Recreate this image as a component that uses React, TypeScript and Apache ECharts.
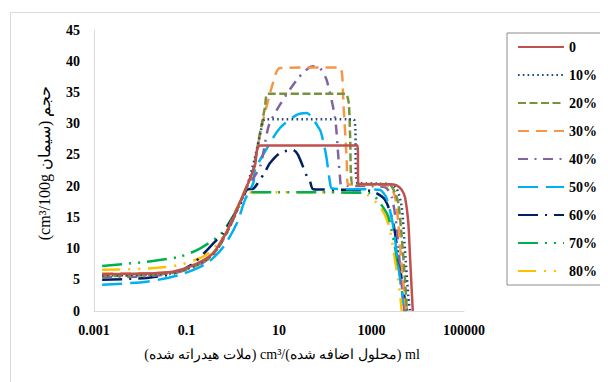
import React, { useEffect, useRef } from 'react';
import * as echarts from 'echarts';

const seriesNames = ['0', '10%', '20%', '30%', '40%', '50%', '60%', '70%', '80%'];
const seriesColors = ['#C0504D', '#1F497D', '#77933C', '#F79646', '#8064A2', '#00B0F0', '#002060', '#00B050', '#FFC000'];
const seriesDash: (number[] | 'solid')[] = [
  'solid',
  [1.6, 3.2],
  [8, 3.5],
  [11, 7],
  [10, 6.5, 2, 6.5],
  [20, 8],
  [20, 7, 2, 7],
  [20, 7, 2, 7, 2, 7],
  [18, 8, 2, 8, 2, 8],
];

const xTickExponents = [-3, -1, 1, 3, 5];
const xTickLabels = ['0.001', '0.1', '10', '1000', '100000'];

const s0 = [[0.0015, 5.9], [0.01, 6.0], [0.05, 6.3], [0.167, 7.6], [0.38, 9.3], [0.74, 12.7], [1.22, 16.2], [2, 19.9], [3, 23.2], [3.9, 26.5], [100, 26.5], [500, 26.5], [520, 20.3], [1500, 20.3], [2500, 20.3], [3500, 20.1], [4500, 19.4], [5300, 18.2], [6250, 14.1], [6800, 8.7], [7400, 3.4], [7800, 0]];
const s10 = [[0.0015, 5.7], [0.01, 5.8], [0.05, 6.2], [0.167, 7.4], [0.38, 9.2], [0.74, 12.6], [1.22, 16.1], [2, 19.8], [3, 24.5], [4, 28.6], [5, 30.7], [100, 30.7], [410, 30.7], [500, 20.5], [1500, 20.4], [2500, 20.3], [3500, 19.6], [4500, 16.7], [5300, 9.8], [6250, 2.3], [6800, 0]];
const s20 = [[0.0015, 5.6], [0.01, 5.7], [0.05, 6.1], [0.167, 7.3], [0.38, 9.1], [0.74, 12.5], [1.22, 16.3], [2, 19.8], [2.74, 22.6], [3.88, 28.5], [5, 32.7], [5.8, 34.8], [100, 34.8], [270, 34.8], [320, 33.5], [345, 28], [385, 20.4], [1500, 20.3], [2500, 20.2], [3200, 19], [3800, 17.3], [4500, 11.9], [5300, 5], [5770, 0.7], [5900, 0]];
const s30 = [[0.0015, 6.0], [0.01, 6.0], [0.05, 6.3], [0.167, 7.5], [0.38, 9.3], [0.74, 12.8], [1.22, 16.4], [2, 20], [2.74, 22.5], [4.2, 29.5], [7.4, 36.5], [10.5, 38.9], [100, 39], [208, 39], [246, 33.3], [291, 24.2], [310, 20.3], [1500, 20.2], [2500, 20], [3220, 18.3], [3800, 14], [4500, 7.1], [5300, 1.8], [5600, 0]];
const s40 = [[0.0015, 5.4], [0.01, 5.5], [0.05, 6.0], [0.167, 7.2], [0.38, 9.0], [0.74, 12.4], [1.22, 16.0], [2, 19.7], [3.88, 23.1], [6.08, 29.8], [11.5, 33.5], [24.2, 37], [40, 38.7], [55, 39.2], [77, 38.9], [107, 37], [163, 30.9], [192, 24.7], [208, 21.5], [227, 20.1], [1000, 20], [2000, 19.8], [2735, 18.3], [3505, 13.5], [4130, 7.1], [4870, 1.8], [5200, 0]];
const s50 = [[0.0015, 4.2], [0.014, 4.7], [0.072, 5.8], [0.27, 7.6], [0.63, 10.3], [1.22, 14], [1.84, 17.8], [2.78, 20.5], [3.03, 22.6], [5.5, 26.1], [10.5, 29.3], [24.2, 31.4], [39.8, 31.7], [77, 29], [85, 28], [104, 25], [127, 20.5], [140, 19.6], [1500, 19.4], [2133, 18], [2960, 13.5], [3800, 7.1], [5300, 0]];
const s60 = [[0.0015, 5.0], [0.014, 5.3], [0.052, 6.0], [0.14, 7.6], [0.45, 11.4], [0.62, 12.4], [1.44, 17], [2.0, 19.4], [2.8, 19.6], [3.5, 20.5], [5, 22.3], [6.4, 23.7], [10.5, 25.3], [20.1, 25.8], [25.8, 25], [40.3, 21.5], [47, 20.7], [55, 19.5], [343, 19.4], [1000, 19.2], [1960, 17.8], [2960, 14], [3800, 8.7], [4870, 3.4], [5770, 0]];
const s70 = [[0.0015, 7.2], [0.014, 7.9], [0.072, 8.7], [0.195, 10], [0.53, 12.2], [1.0, 15.1], [1.66, 18.3], [2.0, 19.1], [3, 19.0], [100, 19.0], [929, 18.9], [1528, 17.3], [2308, 15.1], [3505, 8.7], [4497, 3.4], [5300, 0]];
const s80 = [[0.0015, 6.6], [0.014, 6.8], [0.072, 7.4], [0.27, 9], [0.62, 11.9], [1.22, 15.7], [2.0, 18.9], [3, 19.0], [100, 19.0], [654, 18.9], [1528, 16.7], [2308, 14], [3220, 8.2], [4130, 2.8], [4500, 0]];

const seriesData = [s0, s10, s20, s30, s40, s50, s60, s70, s80];

const yTitle = '(cm³/100g حجم (سیمان';
const xTitle = '(ملات هیدراته شده) cm³/(محلول اضافه شده) ml';

export default function App() {
  const ref = useRef<HTMLDivElement>(null);
  useEffect(() => {
    if (!ref.current) return;
    const chart = echarts.init(ref.current, undefined, { renderer: 'svg' });
    chart.setOption({
      animation: false,
      backgroundColor: '#fff',
      grid: { left: 86, top: 22, width: 370, height: 281, containLabel: false },
      xAxis: {
        type: 'log',
        logBase: 10,
        min: 0.001,
        max: 100000,
        axisLine: { show: true, lineStyle: { color: '#D9D9D9', width: 1 } },
        axisTick: { show: false },
        splitLine: { show: false },
        minorTick: { show: false },
        axisLabel: {
          margin: 12,
          color: '#000',
          fontFamily: 'Liberation Serif',
          fontWeight: 'bold',
          fontSize: 14,
          formatter: (v: number) => {
            const e = Math.round(Math.log10(v));
            const i = xTickExponents.indexOf(e);
            return i >= 0 ? xTickLabels[i] : '';
          },
        },
      },
      yAxis: {
        type: 'value',
        min: 0,
        max: 45,
        interval: 5,
        axisLine: { show: true, lineStyle: { color: '#D9D9D9', width: 1 } },
        axisTick: { show: false },
        splitLine: { show: false },
        axisLabel: { margin: 14, color: '#000', fontFamily: 'Liberation Serif', fontWeight: 'bold', fontSize: 14 },
      },
      legend: {
        orient: 'vertical',
        left: 499,
        top: 25,
        padding: [7, 11, 7, 10],
        itemWidth: 46,
        itemHeight: 14,
        itemGap: 14,
        borderColor: '#8C8C8C',
        borderWidth: 1,
        itemStyle: { opacity: 0 },
        textStyle: { color: '#000', fontFamily: 'Liberation Serif', fontWeight: 'bold', fontSize: 14 },
        data: seriesNames,
      },
      graphic: [
        {
          type: 'text',
          x: 36,
          y: 155,
          rotation: Math.PI / 2,
          style: { text: yTitle, fontFamily: 'Liberation Serif', fontSize: 16, fill: '#000', align: 'center', verticalAlign: 'middle' },
        },
        {
          type: 'text',
          x: 274,
          y: 346,
          style: { text: xTitle, fontFamily: 'Liberation Serif', fontSize: 14, fill: '#000', align: 'center', verticalAlign: 'middle' },
        },
      ],
      series: seriesNames.map((name, i) => ({
        name,
        type: 'line',
        data: seriesData[i],
        symbol: 'none',
        smooth: 0.25,
        lineStyle: { color: seriesColors[i], width: 2.5, type: seriesDash[i], cap: 'butt' },
        itemStyle: { color: seriesColors[i] },
        z: 10 - i,
      })),
    });
    return () => chart.dispose();
  }, []);
  return (
    <div style={{ position: 'relative', width: 600, height: 374, overflow: 'hidden' }}>
      <div ref={ref} style={{ position: 'absolute', left: 0, top: 0, width: 600, height: 374 }} />
      <div
        style={{
          position: 'absolute',
          left: 2,
          top: 4,
          width: 640,
          height: 420,
          border: '1px solid #D9D9D9',
          pointerEvents: 'none',
        }}
      />
    </div>
  );
}
